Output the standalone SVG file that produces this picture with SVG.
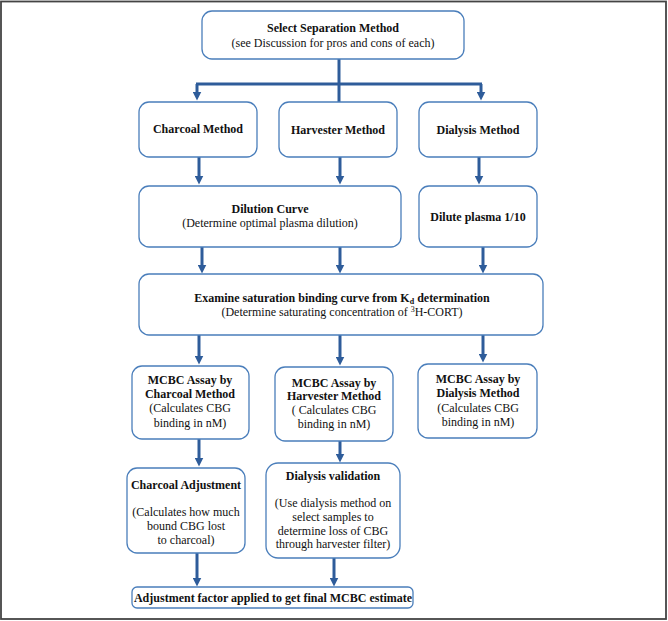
<svg xmlns="http://www.w3.org/2000/svg" width="668" height="621" viewBox="0 0 668 621">
<style>
  .box { fill: #ffffff; stroke: #4a7ebb; stroke-width: 1.3; }
  .t { font-family: "Liberation Serif", "Times New Roman", serif; font-size: 12px; fill: #111; text-anchor: middle; }
  .b { font-weight: bold; }
  .conn path { fill: none; stroke: #2e5c9a; stroke-width: 3; }
</style>
<defs>
  <marker id="ah" viewBox="0 0 10 10" markerWidth="9" markerHeight="9" refX="5" refY="5" orient="auto" markerUnits="userSpaceOnUse">
    <path d="M0,0 L10,5 L0,10 z" fill="#2e5c9a"/>
  </marker>
</defs>
<rect x="1" y="1.5" width="665" height="617.5" fill="#ffffff" stroke="#444" stroke-width="1.8"/>

<g class="conn" id="connectors">
  <path d="M339 59 V84"/>
  <path d="M196 84 H482"/>
  <path d="M197 84 V96" marker-end="url(#ah)"/>
  <path d="M481 84 V96" marker-end="url(#ah)"/>
  <path d="M339 84 V102"/>
  <path d="M199 157 V180" marker-end="url(#ah)"/>
  <path d="M340 157 V180" marker-end="url(#ah)"/>
  <path d="M479 157 V180" marker-end="url(#ah)"/>
  <path d="M202 247 V269" marker-end="url(#ah)"/>
  <path d="M340 247 V269" marker-end="url(#ah)"/>
  <path d="M483 247 V269" marker-end="url(#ah)"/>
  <path d="M199 335 V360" marker-end="url(#ah)"/>
  <path d="M340 335 V361" marker-end="url(#ah)"/>
  <path d="M483 335 V358" marker-end="url(#ah)"/>
  <path d="M199 439 V462" marker-end="url(#ah)"/>
  <path d="M340 441 V458" marker-end="url(#ah)"/>
  <path d="M197 553 V582" marker-end="url(#ah)"/>
  <path d="M334 558 V582" marker-end="url(#ah)"/>
</g>

<g id="select">
  <rect class="box" x="202" y="11" width="262" height="48" rx="10"/>
  <text class="t b" x="333" y="32">Select Separation Method</text>
  <text class="t" x="333" y="47">(see Discussion for pros and cons of each)</text>
</g>

<g id="charcoal-method">
  <rect class="box" x="139" y="102" width="118" height="55" rx="10"/>
  <text class="t b" x="198" y="133">Charcoal Method</text>
</g>
<g id="harvester-method">
  <rect class="box" x="279" y="102" width="118" height="55" rx="10"/>
  <text class="t b" x="338" y="134">Harvester Method</text>
</g>
<g id="dialysis-method">
  <rect class="box" x="419" y="102" width="118" height="55" rx="10"/>
  <text class="t b" x="478" y="134">Dialysis Method</text>
</g>

<g id="dilution-curve">
  <rect class="box" x="139" y="186" width="262" height="61" rx="10"/>
  <text class="t b" x="270" y="213">Dilution Curve</text>
  <text class="t" x="270" y="227">(Determine optimal plasma dilution)</text>
</g>
<g id="dilute-plasma">
  <rect class="box" x="419" y="186" width="118" height="61" rx="10"/>
  <text class="t b" x="478" y="221">Dilute plasma 1/10</text>
</g>

<g id="examine">
  <rect class="box" x="139" y="274" width="404" height="61" rx="10"/>
  <text class="t b" x="342" y="302">Examine saturation binding curve from K<tspan font-size="8" dy="2">d</tspan><tspan dy="-2"> determination</tspan></text>
  <text class="t" x="342" y="316">(Determine saturating concentration of <tspan font-size="8" dy="-4">3</tspan><tspan dy="4">H-CORT)</tspan></text>
</g>

<g id="mcbc-charcoal">
  <rect class="box" x="132" y="366" width="117" height="73" rx="10"/>
  <text class="t b" x="190" y="384">MCBC Assay by</text>
  <text class="t b" x="190" y="398">Charcoal Method</text>
  <text class="t" x="190" y="412">(Calculates CBG</text>
  <text class="t" x="190" y="427">binding in nM)</text>
</g>
<g id="mcbc-harvester">
  <rect class="box" x="275" y="367" width="118" height="74" rx="10"/>
  <text class="t b" x="334" y="387">MCBC Assay by</text>
  <text class="t b" x="334" y="400">Harvester Method</text>
  <text class="t" x="334" y="414">( Calculates CBG</text>
  <text class="t" x="334" y="428">binding in nM)</text>
</g>
<g id="mcbc-dialysis">
  <rect class="box" x="418" y="364" width="119" height="74" rx="10"/>
  <text class="t b" x="478" y="383">MCBC Assay by</text>
  <text class="t b" x="478" y="397">Dialysis Method</text>
  <text class="t" x="478" y="412">(Calculates CBG</text>
  <text class="t" x="478" y="426">binding in nM)</text>
</g>

<g id="charcoal-adjustment">
  <rect class="box" x="127" y="468" width="118" height="85" rx="10"/>
  <text class="t b" x="186" y="489">Charcoal Adjustment</text>
  <text class="t" x="186" y="516">(Calculates how much</text>
  <text class="t" x="186" y="530">bound CBG lost</text>
  <text class="t" x="186" y="544">to charcoal)</text>
</g>
<g id="dialysis-validation">
  <rect class="box" x="266" y="463" width="134" height="95" rx="12"/>
  <text class="t b" x="333" y="480">Dialysis validation</text>
  <text class="t" x="333" y="507">(Use dialysis method on</text>
  <text class="t" x="333" y="521">select samples to</text>
  <text class="t" x="333" y="535">determine loss of CBG</text>
  <text class="t" x="333" y="548">through harvester filter)</text>
</g>

<g id="final">
  <rect class="box" x="132" y="587" width="281" height="21" rx="5"/>
  <text class="t b" x="273" y="602">Adjustment factor applied to get final MCBC estimate</text>
</g>
</svg>
